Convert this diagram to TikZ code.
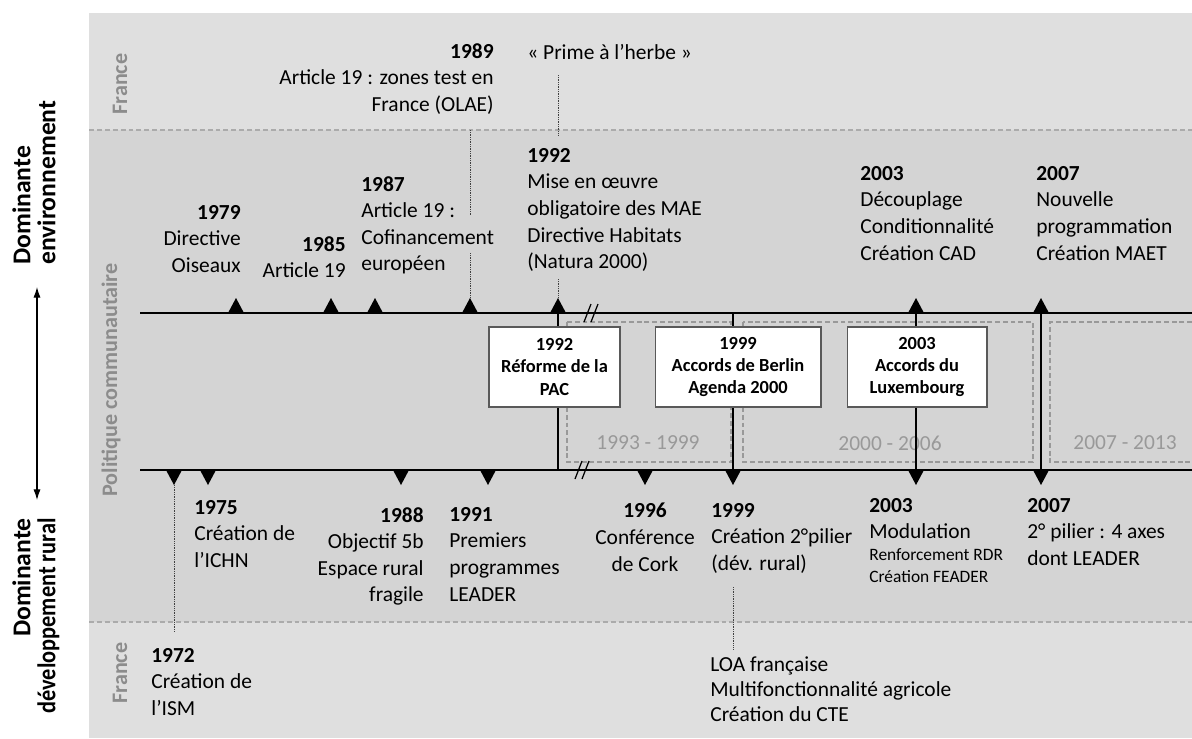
\documentclass[tikz,border=0pt]{standalone}
\usepackage{fontspec}
\usepackage{graphicx}
\setmainfont{Carlito}
\usetikzlibrary{arrows.meta,positioning}

\definecolor{bandlight}{HTML}{DFDFDF}
\definecolor{bandmid}{HTML}{D4D4D4}

\tikzset{
  uptri/.pic={\fill (-8,0) -- (0,-15) -- (8,0) -- cycle;
    \coordinate (-tip) at (0,-15); \coordinate (-base) at (0,0);},
  dntri/.pic={\fill (-8,0) -- (0,15) -- (8,0) -- cycle;
    \coordinate (-tip) at (0,15); \coordinate (-base) at (0,0);},
  brk/.pic={\draw[line width=0.7pt] (-8,9) -- (-1,-9) (-1,9) -- (6,-9);},
}

\begin{document}
\begin{tikzpicture}[x=0.02cm, y=-0.02cm,
  txt/.style={inner sep=0pt, font=\fontsize{12.2}{15.1}\selectfont},
  lft/.style={txt, align=left, anchor=north west},
  rgt/.style={txt, align=right, anchor=north east},
  ctr/.style={txt, align=center, anchor=north},
  small/.style={lft, font=\fontsize{9.9}{12.5}\selectfont},
  keybox/.style={draw=black!65, fill=white, line width=0.6pt, align=center, inner sep=0pt,
    minimum height=1.6cm, font=\bfseries\fontsize{10.5}{12.8}\selectfont},
  zone/.style={text=black!45, inner sep=0pt, rotate=90, font=\bfseries\fontsize{12.6}{14}\selectfont},
  side/.style={inner sep=0pt, rotate=90, font=\bfseries\fontsize{14.6}{14.3}\selectfont},
  sep/.style={black!33, dash pattern=on 2.8pt off 1.7pt, line width=0.6pt},
  period/.style={black!40, dash pattern=on 2.8pt off 1.6pt, line width=0.7pt},
  plabel/.style={text=black!40, inner sep=0pt, font=\fontsize{12.2}{15}\selectfont},
  tl/.style={line width=1.6pt},
  dots/.style={black!75, dash pattern=on 0.5pt off 0.5pt, line width=0.55pt}]

\useasboundingbox (0,0) rectangle (1192,738);
\fill[bandlight] (89,13) rectangle (1192,130);
\fill[bandmid] (89,130) rectangle (1192,622);
\fill[bandlight] (89,622) rectangle (1192,738);
\draw[sep] (89,130) -- (1192,130);
\draw[sep] (89,622) -- (1192,622);

\node[zone] (fr1) at (120,84) {France};
\node[zone] (pc) at (111,380) {Politique communautaire};
\node[zone] (fr2) at (120,673) {France};

\coordinate (envA) at (37,287);
\coordinate (rurA) at (37,500);
\draw[{Latex[length=6pt,width=4pt]}-{Latex[length=6pt,width=4pt]}, line width=0.6pt] (envA) -- (rurA);
\node[side, align=left, anchor=north west] (domenv) at (12,265) {Dominante\\environnement};
\node[side, align=right, anchor=north east] (domrur) at (12,518) {Dominante\\\scalebox{0.87}[1]{développement rural}};

\draw[period] (567,322) rectangle (731,462);
\draw[period] (743,322) rectangle (1033,462);
\draw[period] (1192,322) -- (1050,322) -- (1050,462) -- (1192,462);
\node[plabel] (p1) at (648,443) {1993 - 1999};
\node[plabel] (p2) at (890,443) {2000 - 2006};
\node[plabel] (p3) at (1125,443) {2007 - 2013};

\coordinate (topL) at (140,313);
\coordinate (topR) at (1192,313);
\coordinate (botL) at (140,470);
\coordinate (botR) at (1192,470);
\draw[tl] (topL) -- (topR);
\draw[tl] (botL) -- (botR);

\foreach \y/\x in {1979/236, 1985/331, 1987/375, 1989/470, 1992/558, 2003/916, 2007/1041}
  \pic (t\y) at (\x,313) {uptri};
\foreach \y/\x in {1972/174, 1975/208, 1988/401, 1991/488, 1996/645, 1999/733, 2003/916, 2007/1041}
  \pic (b\y) at (\x,470) {dntri};

\draw[tl] (t1992-base) -- (t1992-base |- botL);
\draw[tl] (b1999-base |- topL) -- (b1999-base);
\draw[tl] (t2003-base) -- (b2003-base);
\draw[tl] (t2007-base) -- (b2007-base);
\pic at (592,313) {brk};
\pic at (583,470) {brk};

\node[keybox, minimum width=2.62cm] (k1992) at (554.5,367) {1992\\Réforme de la\\PAC};
\node[keybox, minimum width=3.32cm] (k1999) at (738,367) {1999\\Accords de Berlin\\Agenda 2000};
\node[keybox, minimum width=2.8cm] (k2003) at (917,367) {2003\\Accords du\\Luxembourg};

\node[rgt] (e1979) at (241,205) {\textbf{1979}\\Directive\\Oiseaux};
\node[rgt] (e1985) at (346,236) {\textbf{1985}\\Article 19};
\node[lft] (e1987) at (361,176) {\textbf{1987}\\Article 19 :\\Cofinancement\\européen};
\node[rgt] (e1989) at (494,43) {\textbf{1989}\\Article 19 : zones test en\\France (OLAE)};
\node[lft] (herbe) at (527,44) {« Prime à l’herbe »};
\node[lft] (e1992) at (527,148) {\textbf{1992}\\Mise en œuvre\\obligatoire des MAE\\Directive Habitats\\(Natura 2000)};
\node[lft] (e2003) at (860,166) {\textbf{2003}\\Découplage\\Conditionnalité\\Création CAD};
\node[lft] (e2007) at (1036,166) {\textbf{2007}\\Nouvelle\\programmation\\Création MAET};

\node[lft] (r1975) at (194,500) {\textbf{1975}\\Création de\\l’ICHN};
\node[rgt] (r1988) at (424,507) {\textbf{1988}\\Objectif 5b\\Espace rural\\fragile};
\node[lft] (r1991) at (449,507) {\textbf{1991}\\Premiers\\programmes\\LEADER};
\node[ctr] (r1996) at (645,503) {\textbf{1996}\\Conférence\\de Cork};
\node[lft] (r1999) at (711,503) {\textbf{1999}\\Création 2°pilier\\(dév. rural)};
\node[lft] (r2003) at (869,498) {\textbf{2003}\\Modulation};
\node[small, below=5pt of r2003.south west, anchor=north west] (r2003b) {Renforcement RDR\\Création FEADER};
\node[lft] (r2007) at (1027,498) {\textbf{2007}\\2° pilier : 4 axes\\dont LEADER};
\node[lft] (f1972) at (151,648) {\textbf{1972}\\Création de\\l’ISM};
\node[lft, font=\fontsize{12.2}{14.3}\selectfont] (loa) at (710,656) {LOA française\\Multifonctionnalité agricole\\Création du CTE};

\coordinate (s1989) at (470,130);
\coordinate (g1989a) at (470,215);
\coordinate (g1989b) at (470,253);
\draw[dots] (s1989) -- (g1989a) (g1989b) -- (t1989-tip);
\coordinate (h1992a) at (558,75);
\coordinate (h1992b) at (558,136);
\coordinate (h1992c) at (558,279);
\draw[dots] (h1992a) -- (h1992b) (h1992c) -- (t1992-tip);
\coordinate (c1972) at (174,632);
\draw[dots] (b1972-tip) -- (c1972);
\coordinate (l1999a) at (733,587);
\coordinate (l1999b) at (733,650);
\draw[dots] (l1999a) -- (l1999b);
\end{tikzpicture}
\end{document}
